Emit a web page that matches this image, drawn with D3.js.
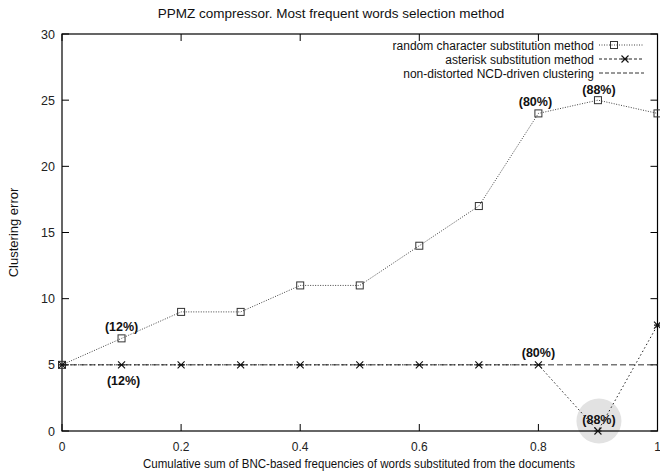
<!DOCTYPE html>
<html>
<head>
<meta charset="utf-8">
<script src="https://cdn.jsdelivr.net/npm/d3@7"></script>
<style>
  body { margin: 0; background: #fff; }
  text { font-family: "Liberation Sans", Arial, sans-serif; }
</style>
</head>
<body>
<div id="chart"></div>
<script>
// data
var xs = [0, 0.1, 0.2, 0.3, 0.4, 0.5, 0.6, 0.7, 0.8, 0.9, 1];
var randomSub = [5, 7, 9, 9, 11, 11, 14, 17, 24, 25, 24];
var asteriskSub = [5, 5, 5, 5, 5, 5, 5, 5, 5, 0, 8];
var baseline = 5;
var xTicks = [0, 0.2, 0.4, 0.6, 0.8, 1];
var yTicks = [0, 5, 10, 15, 20, 25, 30];
// [x, y, label, dx, dy]
var notesRandom = [[0.1, 7, "(12%)", 0, -7], [0.8, 24, "(80%)", -3, -7], [0.9, 25, "(88%)", 1, -6]];
var notesAsterisk = [[0.1, 5, "(12%)", 2, 20], [0.8, 5, "(80%)", 0, -8], [0.9, 0, "(88%)", 1, -7]];
var legendLabels = ["random character substitution method", "asterisk substitution method", "non-distorted NCD-driven clustering"];

(function () {
  var width = 660, height = 474;
  var margin = { top: 34, right: 2, bottom: 43, left: 62 };

  var svg = d3.select('#chart').append('svg')
    .attr('width', width).attr('height', height);

  var x = d3.scaleLinear().domain([0, 1]).range([margin.left, width - margin.right - 0.5]);
  var y = d3.scaleLinear().domain([0, 30]).range([height - margin.bottom, margin.top]);

  // highlight circle behind the 88% asterisk point
  svg.append('circle')
    .attr('cx', x(0.9) + 1).attr('cy', y(0) - 10).attr('r', 22.5)
    .attr('fill', '#e2e2e2');

  // ticks on all four sides, pointing inwards
  var tl = 7;
  xTicks.forEach(function (t) {
    svg.append('line').attr('x1', x(t)).attr('x2', x(t))
      .attr('y1', y(0)).attr('y2', y(0) - tl).attr('stroke', '#000');
    svg.append('line').attr('x1', x(t)).attr('x2', x(t))
      .attr('y1', y(30)).attr('y2', y(30) + tl).attr('stroke', '#000');
    svg.append('text').attr('x', x(t)).attr('y', y(0) + 20)
      .attr('text-anchor', 'middle').attr('font-size', 12).attr('fill', '#222')
      .text(t);
  });
  yTicks.forEach(function (t) {
    svg.append('line').attr('x1', x(0)).attr('x2', x(0) + tl)
      .attr('y1', y(t)).attr('y2', y(t)).attr('stroke', '#000');
    svg.append('line').attr('x1', x(1)).attr('x2', x(1) - tl)
      .attr('y1', y(t)).attr('y2', y(t)).attr('stroke', '#000');
    svg.append('text').attr('x', x(0) - 7).attr('y', y(t) + 4.5)
      .attr('text-anchor', 'end').attr('font-size', 12.5).attr('fill', '#222')
      .text(t);
  });

  // frame
  svg.append('rect')
    .attr('x', x(0)).attr('y', y(30))
    .attr('width', x(1) - x(0)).attr('height', y(0) - y(30))
    .attr('fill', 'none').attr('stroke', '#000').attr('stroke-width', 1.2);

  // baseline
  svg.append('line')
    .attr('x1', x(0)).attr('x2', x(1)).attr('y1', y(baseline)).attr('y2', y(baseline))
    .attr('stroke', '#333').attr('stroke-dasharray', '6,3');

  var line = d3.line().x(function (d) { return x(d[0]); }).y(function (d) { return y(d[1]); });

  var randPts = xs.map(function (v, i) { return [v, randomSub[i]]; });
  var astPts = xs.map(function (v, i) { return [v, asteriskSub[i]]; });

  svg.append('path').datum(randPts).attr('d', line)
    .attr('fill', 'none').attr('stroke', '#444').attr('stroke-width', 1)
    .attr('stroke-dasharray', '1,1.5');
  svg.append('path').datum(astPts).attr('d', line)
    .attr('fill', 'none').attr('stroke', '#222').attr('stroke-width', 1)
    .attr('stroke-dasharray', '1.5,2.5');

  function square(g, px, py) {
    g.append('rect').attr('x', px - 3.5).attr('y', py - 3.5)
      .attr('width', 7).attr('height', 7)
      .attr('fill', 'none').attr('stroke', '#333').attr('stroke-width', 1);
  }
  function star(g, px, py) {
    var s = 3.5;
    g.append('path')
      .attr('d', 'M' + (px - s) + ',' + (py - s) + 'L' + (px + s) + ',' + (py + s) +
        'M' + (px - s) + ',' + (py + s) + 'L' + (px + s) + ',' + (py - s) +
        'M' + (px - s) + ',' + py + 'L' + (px + s) + ',' + py)
      .attr('stroke', '#111').attr('stroke-width', 1.1);
  }

  randPts.forEach(function (d) { square(svg, x(d[0]), y(d[1])); });
  astPts.forEach(function (d) { star(svg, x(d[0]), y(d[1])); });

  // percentage notes
  notesRandom.concat(notesAsterisk).forEach(function (n) {
    svg.append('text').attr('x', x(n[0]) + n[3]).attr('y', y(n[1]) + n[4])
      .attr('text-anchor', 'middle')
      .attr('font-size', 12.5).attr('font-weight', 'bold').attr('fill', '#111')
      .text(n[2]);
  });

  // legend
  var lx = 594, ly = 45;
  legendLabels.forEach(function (lab, i) {
    var yy = ly + i * 14;
    svg.append('text').attr('x', lx).attr('y', yy + 4.5)
      .attr('text-anchor', 'end').attr('font-size', 12).attr('fill', '#111')
      .text(lab);
    var l = svg.append('line').attr('x1', lx + 5).attr('x2', lx + 50)
      .attr('y1', yy).attr('y2', yy).attr('stroke-width', 1);
    if (i === 0) { l.attr('stroke', '#444').attr('stroke-dasharray', '1,1.5'); square(svg, lx + 20, yy); }
    if (i === 1) { l.attr('stroke', '#222').attr('stroke-dasharray', '3,2'); star(svg, lx + 31, yy); }
    if (i === 2) { l.attr('stroke', '#333').attr('stroke-dasharray', '4,2'); }
  });

  // title and axis titles
  svg.append('text').attr('x', 331).attr('y', 18).attr('text-anchor', 'middle')
    .attr('font-size', 13.5).attr('fill', '#111')
    .text('PPMZ compressor. Most frequent words selection method');
  svg.append('text').attr('x', 359).attr('y', 468).attr('text-anchor', 'middle')
    .attr('font-size', 12).attr('fill', '#111')
    .attr('textLength', 432).attr('lengthAdjust', 'spacingAndGlyphs')
    .text('Cumulative sum of BNC-based frequencies of words substituted from the documents');
  svg.append('text').attr('transform', 'translate(18,' + y(15) + ') rotate(-90)')
    .attr('text-anchor', 'middle').attr('font-size', 13).attr('fill', '#111')
    .text('Clustering error');
})();
</script>
</body>
</html>
